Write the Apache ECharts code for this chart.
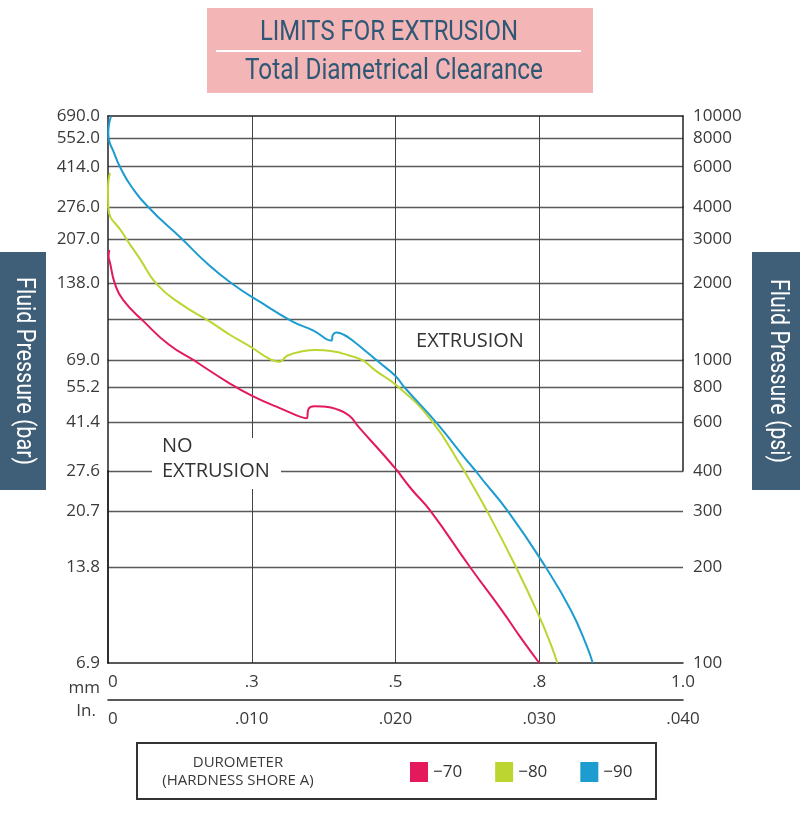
<!DOCTYPE html>
<html><head><meta charset="utf-8">
<script src="https://cdn.jsdelivr.net/npm/echarts@6/dist/echarts.min.js"></script>
<style>html,body{margin:0;padding:0;background:#fff}#c{width:800px;height:816px}</style>
</head><body><div id="c"></div>
<script>
// x = total diametrical clearance (inches), y = fluid pressure (psi)
// cusp points are listed twice so that the smoothed line keeps its sharp corner
const shoreA70 = [[0.00009,2710],[0.00004,2560],[0.00014,2413],[0.00049,1990],[0.00106,1719],[0.0025,1416],[0.00423,1150],[0.00595,1000],[0.00848,823],[0.00999,745],[0.01195,672],[0.01381,618],[0.01381,618],[0.01395,668],[0.01436,683],[0.01494,681],[0.01585,668],[0.01677,632],[0.01746,573],[0.01903,466],[0.02,408],[0.02113,350],[0.02243,300],[0.02518,200],[0.02741,146],[0.02866,121],[0.03,100]];
const shoreA80 = [[0.00014,5630],[0.00003,5200],[0,4795],[0.00002,4000],[0.00106,3133],[0.00223,2494],[0.00339,1990],[0.00501,1670],[0.00715,1410],[0.00848,1257],[0.00999,1120],[0.01124,1010],[0.01189,985],[0.01189,985],[0.0125,1042],[0.01354,1082],[0.01446,1094],[0.01561,1082],[0.01676,1042],[0.01768,1000],[0.01859,918],[0.02008,810],[0.02243,614],[0.02479,400],[0.02636,300],[0.02838,200],[0.03003,139],[0.03085,113],[0.03126,100]];
const shoreA90 = [[0.0002,9950],[0.00005,9000],[0.00002,8400],[0.00009,7760],[0.00037,7020],[0.00083,6000],[0.00165,4890],[0.0028,4000],[0.00513,3000],[0.00698,2374],[0.00861,2000],[0.01061,1688],[0.01284,1416],[0.01429,1306],[0.01553,1192],[0.01553,1192],[0.01565,1257],[0.01588,1282],[0.01641,1257],[0.01721,1170],[0.01813,1060],[0.01882,985],[0.02,876],[0.0206,800],[0.0228,600],[0.02558,400],[0.0278,300],[0.03044,200],[0.03221,146],[0.03331,113],[0.03372,100]];
const seriesNames = ['\u221270','\u221280','\u221290'];
const mmLabels = ['0','.3','.5','.8','1.0'];
const inLabels = ['0','.010','.020','.030','.040'];
const psiTicks = [100,200,300,400,600,800,1000,2000,3000,4000,6000,8000,10000];
const barLabels = ['6.9','13.8','20.7','27.6','41.4','55.2','69.0','138.0','207.0','276.0','414.0','552.0','690.0'];
const unlabeledGrid = [1450];

const seriesData = [shoreA70, shoreA80, shoreA90];
const colors = ['#e3195c','#bdd530','#1d9cd0'];
const FONT = "'Open Sans', 'DejaVu Sans', sans-serif";
const LABEL_COLOR = '#3a3a3a';

// the printed pressure scale is drawn as stacked log bands
const panels = [
  {lo:100, hi:400, top:471, bottom:663},
  {lo:400, hi:1000, top:360, bottom:471},
  {lo:1000, hi:4000, top:207, bottom:360},
  {lo:4000, hi:10000, top:116, bottom:207}
];
const plotLeft = 108, plotRight = 683;

function tickIndex(v){
  let best=0, bd=Infinity;
  psiTicks.forEach((t,i)=>{const d=Math.abs(Math.log(v/t)); if(d<bd){bd=d;best=i;}});
  return best;
}
const gridVals = psiTicks.filter(v=>v>100 && v<10000).concat(unlabeledGrid);

const grids=[], xAxes=[], yAxes=[], series=[];
panels.forEach((p,i)=>{
  grids.push({left:plotLeft, width:plotRight-plotLeft, top:p.top, height:p.bottom-p.top, containLabel:false});
  const isBottom = i===0, isTop = i===panels.length-1;
  xAxes.push({
    gridIndex:i, type:'value', min:0, max:0.04, interval:0.01,
    position: isTop ? 'top' : 'bottom',
    axisLine:{show: isBottom || isTop, onZero:false, lineStyle:{color:'#222', width:1.5}},
    axisTick:{show:false},
    axisLabel:{show:isBottom, margin:11, fontFamily:FONT, fontSize:17, color:LABEL_COLOR, alignMinLabel:'left',
      formatter:(v)=>mmLabels[Math.round(v/0.01)]},
    splitLine:{show:true, showMinLine:false, showMaxLine:false, lineStyle:{color:'#444', width:1}}
  });
  const splitVals = gridVals.filter(v=>v>=p.lo && v<p.hi);
  const labelVals = psiTicks.filter(v=>(v>p.lo && v<=p.hi) || (i===0 && v===p.lo));
  yAxes.push({
    gridIndex:i, type:'log', logBase:10, min:p.lo, max:p.hi, position:'left',
    axisLine:{show:true, lineStyle:{color:'#222', width:1.5}},
    axisTick:{show:false, customValues:splitVals.length?splitVals:[p.lo]},
    axisLabel:{customValues:labelVals, margin:8, fontFamily:FONT, fontSize:17, color:LABEL_COLOR,
      formatter:(v)=>barLabels[tickIndex(v)]},
    splitLine:{show:splitVals.length>0, lineStyle:{color:'#5a5a5a', width:1.3}}
  });
  yAxes.push({
    gridIndex:i, type:'log', logBase:10, min:p.lo, max:p.hi, position:'right',
    axisLine:{show:true, lineStyle:{color:'#222', width:1.5}},
    axisTick:{show:false, customValues:labelVals},
    axisLabel:{customValues:labelVals, margin:10, fontFamily:FONT, fontSize:17, color:LABEL_COLOR,
      formatter:(v)=>String(psiTicks[tickIndex(v)])},
    splitLine:{show:false}
  });
  seriesData.forEach((d,k)=>{
    series.push({
      type:'line', name:seriesNames[k], xAxisIndex:i, yAxisIndex:2*i, data:d,
      showSymbol:false, symbol:'none', smooth:0.5, clip:true, silent:true, z:3,
      lineStyle:{color:colors[k], width:2}, itemStyle:{color:colors[k]}
    });
  });
});
// inch axis below the mm axis
xAxes.push({
  gridIndex:0, type:'value', min:0, max:0.04, interval:0.01, position:'bottom', offset:37,
  axisLine:{show:true, onZero:false, lineStyle:{color:'#222', width:1.5}},
  axisTick:{show:false},
  axisLabel:{margin:11, fontFamily:FONT, fontSize:17, color:LABEL_COLOR, alignMinLabel:'left',
    formatter:(v)=>inLabels[Math.round(v/0.01)]},
  splitLine:{show:false}
});

const cv = document.createElement('canvas').getContext('2d');
function fit(text, font, target){ cv.font = font; return target / cv.measureText(text).width; }
const titleFont1 = "28px Roboto", titleFont2 = "29px Roboto", sideFont = "26px Roboto";
const t1 = 'LIMITS FOR EXTRUSION', t2 = 'Total Diametrical Clearance';
const s1 = 'Fluid Pressure (bar)', s2 = 'Fluid Pressure (psi)';

const graphic = [
  {type:'rect', shape:{x:207,y:8,width:386,height:85}, style:{fill:'#f4b5b7'}, z:1},
  {type:'line', shape:{x1:216,y1:51,x2:581,y2:51}, style:{stroke:'#ffffff', lineWidth:2}, z:2},
  {type:'text', x:389, y:33, scaleX:fit(t1,titleFont1,258), z:2,
    style:{text:t1, font:titleFont1, fill:'#2e5874', align:'center', verticalAlign:'middle'}},
  {type:'text', x:394, y:72, scaleX:fit(t2,titleFont2,298), z:2,
    style:{text:t2, font:titleFont2, fill:'#2e5874', align:'center', verticalAlign:'middle'}},
  {type:'rect', shape:{x:0,y:252,width:46,height:238}, style:{fill:'#3f5f78'}, z:1},
  {type:'text', x:23, y:371, rotation:-Math.PI/2, scaleX:fit(s1,sideFont,188), z:2,
    style:{text:s1, font:sideFont, fill:'#ffffff', align:'center', verticalAlign:'middle'}},
  {type:'rect', shape:{x:752,y:252,width:48,height:238}, style:{fill:'#3f5f78'}, z:1},
  {type:'text', x:777, y:371, rotation:-Math.PI/2, scaleX:fit(s2,sideFont,184), z:2,
    style:{text:s2, font:sideFont, fill:'#ffffff', align:'center', verticalAlign:'middle'}},
  {type:'text', x:100, y:688, z:2, style:{text:'mm', font:"17px 'Open Sans'", fill:LABEL_COLOR, align:'right', verticalAlign:'middle'}},
  {type:'text', x:96, y:711, z:2, style:{text:'In.', font:"17px 'Open Sans'", fill:LABEL_COLOR, align:'right', verticalAlign:'middle'}},
  {type:'text', x:470, y:341, z:5, style:{text:'EXTRUSION', font:"20px 'Open Sans'", fill:'#333', align:'center', verticalAlign:'middle'}},
  {type:'rect', shape:{x:152,y:438,width:129,height:51}, style:{fill:'#ffffff'}, z:5},
  {type:'text', x:162, y:446, z:6, style:{text:'NO', font:"20px 'Open Sans'", fill:'#333', align:'left', verticalAlign:'middle'}},
  {type:'text', x:162, y:471, z:6, style:{text:'EXTRUSION', font:"20px 'Open Sans'", fill:'#333', align:'left', verticalAlign:'middle'}},
  {type:'rect', shape:{x:137,y:743,width:519,height:56}, style:{fill:'none', stroke:'#333', lineWidth:2}, z:1},
  {type:'text', x:238, y:763, z:2, style:{text:'DUROMETER', font:"15px 'Open Sans'", fill:LABEL_COLOR, align:'center', verticalAlign:'middle'}},
  {type:'text', x:238, y:781, z:2, style:{text:'(HARDNESS SHORE A)', font:"15px 'Open Sans'", fill:LABEL_COLOR, align:'center', verticalAlign:'middle'}}
];

const chart = echarts.init(document.getElementById('c'), null, {renderer:'canvas'});
chart.setOption({
  animation:false,
  backgroundColor:'#ffffff',
  grid:grids, xAxis:xAxes, yAxis:yAxes, series:series,
  legend:{data:seriesNames, left:410, top:762, padding:0, itemWidth:18, itemHeight:20, itemGap:33, icon:'rect',
    selectedMode:false, textStyle:{fontFamily:FONT, fontSize:17, color:'#333'}},
  graphic:graphic
});
</script></body></html>
